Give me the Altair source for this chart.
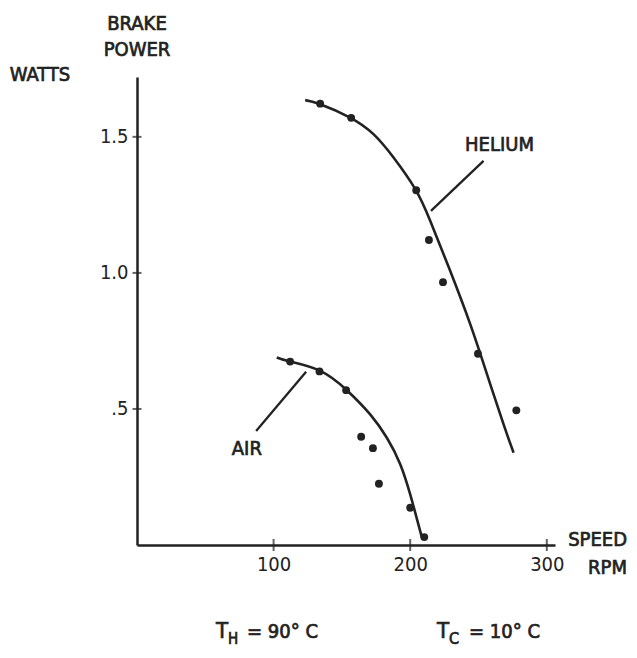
import altair as alt
import pandas as pd

# ---- data ----
air_speed = [112.1, 133.6, 153.1, 164.1, 172.7, 177.1, 200.0, 210.3]
air_power = [0.674, 0.638, 0.569, 0.398, 0.356, 0.225, 0.137, 0.029]
he_speed = [134.1, 156.8, 204.4, 213.7, 224.0, 249.6, 277.7]
he_power = [1.622, 1.570, 1.304, 1.121, 0.966, 0.703, 0.495]

air_curve_speed = [102.3, 112.1, 134.1, 153.6, 170.7, 182.9, 192.7, 200.0, 204.9, 208.6]
air_curve_power = [0.689, 0.674, 0.640, 0.569, 0.480, 0.394, 0.297, 0.186, 0.096, 0.027]
he_curve_speed = [123.1, 134.1, 156.0, 173.1, 187.8, 203.7, 214.7, 229.3, 244.0, 256.2, 268.3, 275.7]
he_curve_power = [1.635, 1.620, 1.571, 1.510, 1.424, 1.308, 1.191, 1.007, 0.811, 0.628, 0.444, 0.339]

x_ticks = [100, 200, 300]
y_ticks = [0.5, 1.0, 1.5]

labels = ["AIR", "HELIUM"]
label_speed = [80.4, 265.4]
label_power = [0.352, 1.47]

leader_x1 = [87.2, 215.2]
leader_y1 = [0.419, 1.228]
leader_x2 = [123.8, 253.7]
leader_y2 = [0.637, 1.412]

FONT = "DejaVu Sans Condensed, DejaVu Sans, sans-serif"
INK = "#222222"
W, H = 418, 468
TXT = dict(font=FONT, color=INK, stroke=INK, strokeWidth=0.7)

x_scale = alt.Scale(domain=[0, 306], nice=False, zero=True)
y_scale = alt.Scale(domain=[0, 1.72], nice=False, zero=True)

axis_common = dict(title=None, grid=False, ticks=False, domainColor=INK,
                   domainWidth=2.5, labelFont=FONT, labelFontWeight="normal",
                   labelFontSize=20, labelColor=INK, labelPadding=9,
                   labelFlush=False, labelOverlap=False)
x_axis = alt.Axis(values=x_ticks, **axis_common)
y_axis = alt.Axis(values=y_ticks,
                  labelExpr="datum.value == 0.5 ? '.5' : format(datum.value, '.1f')",
                  **axis_common)

X = lambda f: alt.X(f, type="quantitative", scale=x_scale, axis=x_axis)
Y = lambda f: alt.Y(f, type="quantitative", scale=y_scale, axis=y_axis)

air_curve = pd.DataFrame({"speed": air_curve_speed, "power": air_curve_power})
he_curve = pd.DataFrame({"speed": he_curve_speed, "power": he_curve_power})
air_pts = pd.DataFrame({"speed": air_speed, "power": air_power})
he_pts = pd.DataFrame({"speed": he_speed, "power": he_power})
lab_df = pd.DataFrame({"speed": label_speed, "power": label_power, "label": labels})
lead_df = pd.DataFrame({"x1": leader_x1, "y1": leader_y1, "x2": leader_x2, "y2": leader_y2})
xt_df = pd.DataFrame({"v": x_ticks})
yt_df = pd.DataFrame({"v": y_ticks})

line_air = alt.Chart(air_curve).mark_line(color=INK, strokeWidth=2.6, interpolate="natural").encode(x=X("speed"), y=Y("power"))
line_he = alt.Chart(he_curve).mark_line(color=INK, strokeWidth=2.6, interpolate="natural").encode(x=X("speed"), y=Y("power"))
pts_air = alt.Chart(air_pts).mark_circle(color=INK, size=62, opacity=1).encode(x=X("speed"), y=Y("power"))
pts_he = alt.Chart(he_pts).mark_circle(color=INK, size=62, opacity=1).encode(x=X("speed"), y=Y("power"))
leaders = alt.Chart(lead_df).mark_rule(color=INK, strokeWidth=2.3).encode(
    x=X("x1"), y=Y("y1"), x2="x2:Q", y2="y2:Q")
lab = alt.Chart(lab_df).mark_text(fontSize=20, **TXT).encode(
    x=X("speed"), y=Y("power"), text="label:N")
xt = alt.Chart(xt_df).mark_tick(orient="vertical", size=12, thickness=2, color=INK).encode(
    x=X("v"), y=alt.value(H))
yt = alt.Chart(yt_df).mark_tick(orient="horizontal", size=9, thickness=2, color=INK).encode(
    y=Y("v"), x=alt.value(0))


def fixed(text, x, y, align="center", size=20, baseline="middle"):
    return alt.Chart(alt.Data(values=[{"t": text}])).mark_text(
        fontSize=size, align=align, baseline=baseline, **TXT
    ).encode(x=alt.value(x), y=alt.value(y), text="t:N")


texts = [
    fixed("BRAKE", 0, -53),
    fixed("POWER", 0, -27),
    fixed("WATTS", -97, -2),
    fixed("SPEED", 490, 463, align="right"),
    fixed("RPM", 490, 491, align="right"),
    fixed("T", 79, 561, align="left", size=22, baseline="alphabetic"),
    fixed("H", 91, 567, align="left", size=15, baseline="alphabetic"),
    fixed("=  90°  C", 110, 561, align="left", baseline="alphabetic"),
    fixed("T", 300, 561, align="left", size=22, baseline="alphabetic"),
    fixed("C", 312, 567, align="left", size=16, baseline="alphabetic"),
    fixed("=  10°   C", 332, 561, align="left", baseline="alphabetic"),
]

chart = alt.layer(line_air, line_he, pts_air, pts_he, leaders, lab, xt, yt, *texts).properties(
    width=W, height=H,
    padding={"left": 129, "top": 69, "right": 74, "bottom": 103},
    autosize=alt.AutoSizeParams(type="none"),
).configure_view(stroke=None)

chart.save("out.html", embed_options={"renderer": "svg", "actions": False})
